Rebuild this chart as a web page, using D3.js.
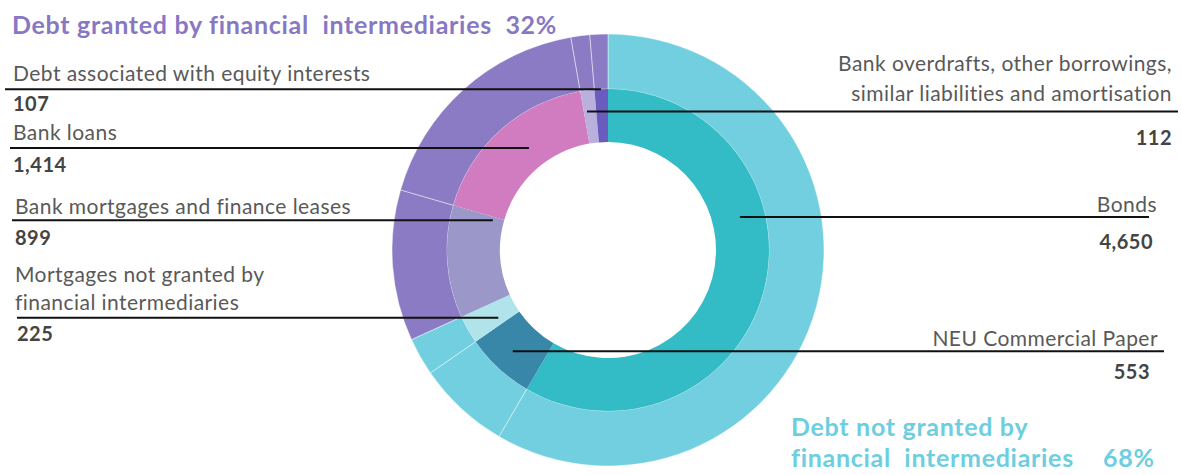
<!DOCTYPE html>
<html>
<head>
<meta charset="utf-8">
<script src="https://cdn.jsdelivr.net/npm/d3@7"></script>
<style>
body { margin: 0; background: #fff; }
svg { display: block; font-family: Lato, "Open Sans", sans-serif; }
</style>
</head>
<body>
<svg id="chart" width="1181" height="475"></svg>
<script>
// data
const categories = ["Bonds", "NEU Commercial Paper", "Mortgages not granted by financial intermediaries",
    "Bank mortgages and finance leases", "Bank loans",
    "Bank overdrafts, other borrowings, similar liabilities and amortisation",
    "Debt associated with equity interests"];
const values = [4650, 553, 225, 899, 1414, 112, 107];
const groups = ["not", "not", "not", "fi", "fi", "fi", "fi"];
const labelLines = [["Bonds"], ["NEU Commercial Paper"], ["Mortgages not granted by", "financial intermediaries"],
    ["Bank mortgages and finance leases"], ["Bank loans"],
    ["Bank overdrafts, other borrowings,", "similar liabilities and amortisation"],
    ["Debt associated with equity interests"]];
const groupTitles = { fi: ["Debt granted by financial  intermediaries"], not: ["Debt not granted by", "financial  intermediaries"] };

// styles
const innerColors = ["#33bcc6", "#3886a8", "#b1e4ea", "#9c97c9", "#d17cc0", "#bab0de", "#6a5cbe"];
const outerColors = { not: "#72cfdf", fi: "#8b7bc4" };
const titleColors = { not: "#6dcedf", fi: "#8878c3" };

// leader layout: t = where in the slice, r = radius of the leader end
const labelLayout = [
    { side: "right", t: 0.361, r: 136, edge: 1149, tx: 1157, ty: [-12], vx: 1153, vy: 25 },
    { side: "right", t: 0.518, r: 139, edge: 1164, tx: 1158, ty: [-13], vx: 1150, vy: 21 },
    { side: "left", t: 0.29, r: 129, edge: 17, tx: 15, ty: [-43, -15], vx: 17, vy: 16 },
    { side: "left", t: 0.96, r: 119, edge: 12, tx: 15, ty: [-14], vx: 15, vy: 18 },
    { side: "left", t: 0.564, r: 129, edge: 10, tx: 13, ty: [-15], vx: 13, vy: 17 },
    { side: "right", t: 0.25, r: 140, edge: 1178, tx: 1172, ty: [-48, -18], vx: 1172, vy: 26 },
    { side: "left", t: 0.48, r: 161, edge: 5, tx: 13, ty: [-16], vx: 13, vy: 15 }
];

const svg = d3.select("#chart");
const cx = 608, cy = 250;
const rHole = 108, rMid = 161, rOut = 216;

const pie = d3.pie().sort(null).value(d => d);
const slices = pie(values);

const innerArc = d3.arc().innerRadius(rHole).outerRadius(rMid);
const outerArc = d3.arc().innerRadius(rMid).outerRadius(rOut);

const donut = svg.append("g").attr("transform", `translate(${cx},${cy})`);

donut.selectAll("path.outer")
    .data(slices)
    .join("path")
    .attr("class", "outer")
    .attr("d", outerArc)
    .attr("fill", (d, i) => outerColors[groups[i]])
    .attr("stroke", "rgba(255,255,255,0.45)")
    .attr("stroke-width", 1);

donut.selectAll("path.inner")
    .data(slices)
    .join("path")
    .attr("class", "inner")
    .attr("d", innerArc)
    .attr("fill", (d, i) => innerColors[i]);

// leaders and labels
const fmt = d3.format(",");
slices.forEach((s, i) => {
    const lay = labelLayout[i];
    const a = s.startAngle + lay.t * (s.endAngle - s.startAngle);
    const p = d3.pointRadial(a, lay.r);
    const px = cx + p[0], py = cy + p[1];

    svg.append("line")
        .attr("x1", px).attr("y1", py)
        .attr("x2", lay.edge).attr("y2", py)
        .attr("stroke", "#111")
        .attr("stroke-width", 2);

    const anchor = lay.side === "left" ? "start" : "end";
    labelLines[i].forEach((txt, k) => {
        svg.append("text")
            .attr("x", lay.tx)
            .attr("y", py + lay.ty[k])
            .attr("dy", "0.35em")
            .attr("text-anchor", anchor)
            .attr("fill", "#595959")
            .style("font-size", "21px")
            .style("letter-spacing", "0.45px")
            .text(txt);
    });

    svg.append("text")
        .attr("x", lay.vx)
        .attr("y", py + lay.vy)
        .attr("dy", "0.35em")
        .attr("text-anchor", anchor)
        .attr("fill", "#444")
        .style("font-size", "20px")
        .style("font-weight", "bold")
        .style("letter-spacing", "0.5px")
        .text(fmt(values[i]));
});

// group titles
const total = d3.sum(values);
const pct = g => Math.round(d3.sum(values.filter((v, i) => groups[i] === g)) / total * 100) + "%";

function title(x, y, txt, color) {
    return svg.append("text")
        .attr("x", x).attr("y", y).attr("dy", "0.35em")
        .attr("fill", color)
        .style("font-size", "25px").style("font-weight", "bold")
        .style("letter-spacing", "0.7px")
        .style("white-space", "pre")
        .text(txt);
}

title(12, 25, groupTitles.fi[0] + "  " + pct("fi"), titleColors.fi);
title(791, 427, groupTitles.not[0], titleColors.not);
title(791, 458, groupTitles.not[1], titleColors.not);
title(1103, 458, pct("not"), titleColors.not);
</script>
</body>
</html>
